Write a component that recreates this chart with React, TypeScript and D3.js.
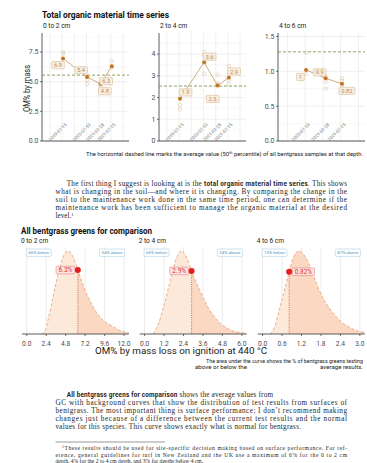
import React from 'react';
import * as d3 from 'd3';

// ---- time series data (top chart) ----
const depths = ['0 to 2 cm', '2 to 4 cm', '4 to 6 cm'];
const sampleDates = [
  ['2019-07-15', '2020-07-10', '2021-01-28', '2021-07-15'],
  ['2019-07-15', '2020-07-10', '2021-01-28', '2021-07-15'],
  ['2020-07-10', '2021-01-28', '2021-07-15'],
];
const meanValues = [
  [6.95, 5.4, 4.8, 6.3],
  [1.95, 3.62, 2.55, 2.92],
  [1.02, 0.9, 0.82],
];
const meanLabels = [
  ['6.9', '5.4', '4.8', '6.3'],
  ['1.9', '3.6', '2.5', '2.9'],
  ['1', '0.9', '0.82'],
];
const sampleValues = [
  [[7.5, 7.35], [5.15, 4.8], [4.9, 4.65], [6.75, 6.2]],
  [[1.66, 1.46], [4.1, 3.95, 3.1], [3.05, 2.65, 2.6, 1.85], [3.45, 2.8, 2.6]],
  [[1.27, 0.96], [0.93, 0.85, 0.75], [0.9, 0.86, 0.8]],
];
const medianValues = [5.55, 2.53, 1.28];
const yTicks = [[0, 2.5, 5, 7.5], [0, 1, 2, 3, 4], [0, 0.5, 1, 1.5]];
const yMax = [9.1, 4.97, 1.55];
const timeDomains = [
  ['2018-09-03', '2022-03-30'],
  ['2018-09-03', '2022-03-30'],
  ['2019-09-25', '2022-03-09'],
];
const gridDates = ['2019-01-01', '2019-07-01', '2020-01-01', '2020-07-01', '2021-01-01', '2021-07-01', '2022-01-01'];

// ---- distribution data (bottom chart) ----
const distMax = [12, 6, 3];
const distTicks = [
  [0, 2.4, 4.8, 7.2, 9.6, 12],
  [0, 1.2, 2.4, 3.6, 4.8, 6],
  [0, 0.6, 1.2, 1.8, 2.4, 3],
];
const currentValues = [6.3, 2.9, 0.82];
const currentLabels = ['6.3%', '2.9%', '0.82%'];
const belowLabels = ['66% below', '66% below', '13% below'];
const aboveLabels = ['34% above', '34% above', '87% above'];
const densityX = [
  [1.8, 2.2, 2.7, 3.25, 3.7, 4.1, 4.7, 5.1, 5.7, 6.3, 6.8, 7.35, 7.9, 8.4, 9.4, 10.6, 11.8, 12.6],
  [0.55, 0.85, 1.18, 1.6, 2.0, 2.25, 2.62, 2.9, 3.44, 3.95, 4.56, 5.28, 6.0, 6.3],
  [0.25, 0.4, 0.54, 0.7, 0.82, 0.96, 1.11, 1.32, 1.58, 1.84, 2.1, 2.42, 2.73, 2.99, 3.15],
];
const densityY = [
  [0, 0.03, 0.2, 0.45, 0.65, 0.81, 0.97, 1.0, 0.93, 0.77, 0.63, 0.49, 0.38, 0.29, 0.17, 0.09, 0.03, 0.015],
  [0, 0.12, 0.33, 0.65, 0.93, 1.0, 0.91, 0.76, 0.51, 0.31, 0.15, 0.05, 0.015, 0.008],
  [0, 0.12, 0.33, 0.56, 0.75, 0.93, 1.0, 0.93, 0.69, 0.45, 0.29, 0.15, 0.07, 0.03, 0.02],
];

// layout
const TOP = { lefts: [42, 159, 278], width: 87, top: 33, bottom: 141 };
const BOT = { lefts: [21.9, 139.7, 257.7], width: 107, top: 247, bottom: 334, peak: 251 };
// label nudges for the mean labels (px from point)
const labelNudge = [
  [[-5, 6.7], [-6, -6.6], [4.3, 7.2], [-5.6, 15]],
  [[5.6, -6.2], [5.5, -5.7], [-5, 13.3], [5.3, -6]],
  [[-5.7, 7], [-6, -6], [5, 7]],
];
const dotLabelSide = [-1, -1, 1];

const SANS = 'Roboto, "Noto Sans", sans-serif';
const SERIF = '"Liberation Serif", "DejaVu Serif", serif';

const ctx = typeof document !== 'undefined' ? document.createElement('canvas').getContext('2d') : null;
function textWidth(s: string, size: number, weight = 'normal') {
  if (!ctx) return s.length * size * 0.5;
  ctx.font = `${weight} ${size}px Roboto`;
  return ctx.measureText(s).width;
}

function TimePanel({ i }: { i: number }) {
  const L = TOP.lefts[i];
  const R = L + TOP.width;
  const x = d3.scaleTime().domain(timeDomains[i].map(s => new Date(s))).range([L, R]);
  const y = d3.scaleLinear().domain([0, yMax[i]]).range([TOP.bottom, TOP.top]);
  const dates = sampleDates[i].map(s => new Date(s));
  const pts: [number, number][] = dates.map((d, k) => [x(d), y(meanValues[i][k])]);
  const step = yTicks[i][1] - yTicks[i][0];
  const minors = d3.range(step / 2, yMax[i], step);
  const vgrid = gridDates.map(s => new Date(s)).filter(d => x(d) > L && x(d) < R);

  return (
    <g>
      {minors.map(t => (
        <line key={'m' + t} x1={L} x2={R} y1={y(t)} y2={y(t)} stroke="#f1f1f1" strokeWidth={0.5} />
      ))}
      {vgrid.map(d => (
        <line key={+d} x1={x(d)} x2={x(d)} y1={TOP.top} y2={TOP.bottom} stroke="#e6e6e6" strokeWidth={0.6} />
      ))}
      {yTicks[i].map(t => (
        <g key={t}>
          <line x1={L} x2={R} y1={y(t)} y2={y(t)} stroke="#e4e4e4" strokeWidth={0.6} />
          <line x1={L - 2} x2={L} y1={y(t)} y2={y(t)} stroke="#333" strokeWidth={0.7} />
          <text x={L - 3.5} y={y(t) + 2.4} fontSize={7} textAnchor="end" fill="#4d4d4d">
            {i === 1 ? d3.format('d')(t) : d3.format('.1f')(t)}
          </text>
        </g>
      ))}
      <line x1={L} x2={L} y1={TOP.top} y2={TOP.bottom} stroke="#333" strokeWidth={0.8} />
      <line x1={L} x2={R} y1={TOP.bottom} y2={TOP.bottom} stroke="#333" strokeWidth={0.8} />
      <line x1={L} x2={R} y1={y(medianValues[i])} y2={y(medianValues[i])} stroke="#6f8f3a" strokeWidth={0.8} strokeDasharray="3,2" />
      {dates.map((d, k) => (
        <text key={k} transform={`translate(${x(d) + 4},${125}) rotate(-45)`} fontSize={4.6} textAnchor="end" fill="#777">
          {sampleDates[i][k]}
        </text>
      ))}
      <path d={d3.line()(pts) || ''} fill="none" stroke="#c9a46e" strokeWidth={0.9} />
      {sampleValues[i].map((vals, k) =>
        vals.map((v, j) => (
          <circle key={k + '-' + j} cx={x(dates[k])} cy={y(v)} r={1.7} fill="none" stroke="#dcc4a6" strokeWidth={0.6} />
        ))
      )}
      {pts.map((p, k) => (
        <circle key={k} cx={p[0]} cy={p[1]} r={2} fill="#c8741e" />
      ))}
      {pts.map((p, k) => {
        const lbl = meanLabels[i][k];
        const w = textWidth(lbl, 5.8) + 4.6;
        const cx = p[0] + labelNudge[i][k][0];
        const cy = p[1] + labelNudge[i][k][1];
        return (
          <g key={'l' + k}>
            <rect x={cx - w / 2} y={cy - 3.6} width={w} height={7.2} rx={1} fill="#f8efe3" stroke="#d8b88e" strokeWidth={0.6} />
            <text x={cx} y={cy + 2} fontSize={5.8} textAnchor="middle" fill="#b88a52">{lbl}</text>
          </g>
        );
      })}
      <text x={L + 1} y={28} fontSize={6.6} fill="#222">{depths[i]}</text>
    </g>
  );
}

function DistPanel({ i }: { i: number }) {
  const L = BOT.lefts[i];
  const W = BOT.width;
  const pad = (W / 1.1) * 0.05;
  const x = d3.scaleLinear().domain([0, distMax[i]]).range([L + pad, L + W - pad]);
  const y = d3.scaleLinear().domain([0, 1]).range([BOT.bottom, BOT.peak]);
  const pts: [number, number][] = densityX[i].map((v, k) => [v, densityY[i][k]]);
  const area = d3.area<[number, number]>().x(d => x(d[0])).y0(BOT.bottom).y1(d => y(d[1])).curve(d3.curveMonotoneX);
  const line = d3.line<[number, number]>().x(d => x(d[0])).y(d => y(d[1])).curve(d3.curveMonotoneX);
  const dens = d3.scaleLinear().domain(densityX[i]).range(densityY[i]);
  const cx = x(currentValues[i]);
  const cy = y(dens(currentValues[i]));
  const lw = textWidth(currentLabels[i], 6.5) + 5;
  const side = dotLabelSide[i];
  const lx = side < 0 ? cx - 3 - lw : cx + 3;
  const bw = textWidth(belowLabels[i], 4.4) + 4;
  const aw = textWidth(aboveLabels[i], 4.4) + 4;
  const x0 = x(0);
  const x1 = x(distMax[i]);

  return (
    <g>
      <defs>
        <clipPath id={`lo${i}`}><rect x={L} y={BOT.top} width={cx - L} height={BOT.bottom - BOT.top} /></clipPath>
        <clipPath id={`hi${i}`}><rect x={cx} y={BOT.top} width={L + W - cx} height={BOT.bottom - BOT.top} /></clipPath>
        <clipPath id={`pn${i}`}><rect x={L} y={BOT.top - 2} width={W} height={BOT.bottom - BOT.top + 2} /></clipPath>
      </defs>
      {distTicks[i].map(t => (
        <line key={t} x1={x(t)} x2={x(t)} y1={BOT.top} y2={BOT.bottom} stroke="#e2e2e2" strokeWidth={0.7} />
      ))}
      <g clipPath={`url(#pn${i})`}>
        <path d={area(pts) || ''} fill="#fde9da" clipPath={`url(#lo${i})`} />
        <path d={area(pts) || ''} fill="#fad8c2" clipPath={`url(#hi${i})`} />
        <path d={line(pts) || ''} fill="none" stroke="#eba47e" strokeWidth={0.9} strokeDasharray="3,2" />
      </g>
      <line x1={cx} x2={cx} y1={cy} y2={BOT.bottom} stroke="#d9544f" strokeWidth={0.9} strokeDasharray="1,1.2" />
      <line x1={L} x2={L + W} y1={BOT.bottom} y2={BOT.bottom} stroke="#333" strokeWidth={0.8} />
      {distTicks[i].map(t => (
        <g key={'t' + t}>
          <line x1={x(t)} x2={x(t)} y1={BOT.bottom} y2={BOT.bottom + 2} stroke="#333" strokeWidth={0.7} />
          <text x={x(t)} y={345.5} fontSize={6.7} textAnchor="middle" fill="#4d4d4d">{d3.format('.1f')(t)}</text>
        </g>
      ))}
      <rect x={x0 - 0.5} y={249} width={bw} height={7.4} rx={1} fill="#fff" stroke="#a9cfe4" strokeWidth={0.6} />
      <text x={x0 - 0.5 + bw / 2} y={254.3} fontSize={4.4} textAnchor="middle" fill="#4f97c0">{belowLabels[i]}</text>
      <rect x={x1 + 0.5 - aw} y={249} width={aw} height={7.4} rx={1} fill="#fff" stroke="#a9cfe4" strokeWidth={0.6} />
      <text x={x1 + 0.5 - aw / 2} y={254.3} fontSize={4.4} textAnchor="middle" fill="#4f97c0">{aboveLabels[i]}</text>
      <rect x={lx} y={cy - 3.8} width={lw} height={7.6} rx={1} fill="#fde6e6" stroke="#e58080" strokeWidth={0.6} />
      <text x={lx + lw / 2} y={cy + 2.3} fontSize={6.5} textAnchor="middle" fill="#d83030">{currentLabels[i]}</text>
      <circle cx={cx} cy={cy} r={3} fill="#e81b1e" />
      <text x={L - 1} y={242.5} fontSize={6.6} fill="#222">{depths[i]}</text>
    </g>
  );
}

function Line({ x, y, x2, size = 7.2, justify = true, children }: any) {
  return (
    <text x={x} y={y} fontFamily={SERIF} fontSize={size} fill="#1e1e1e"
      textLength={justify ? x2 - x : undefined} lengthAdjust="spacing">
      {children}
    </text>
  );
}

export default function App() {
  const PL = 55.5;
  const PR = 347;
  const PI = 66.7;
  return (
    <svg width={367} height={463} fontFamily={SANS}
      style={{ position: 'absolute', left: 0, top: 0, background: '#fff' }}>
      <rect width={367} height={463} fill="#fff" />
      <text x={42} y={18} fontSize={9.2} fontWeight="bold" fill="#111" textLength={127} lengthAdjust="spacingAndGlyphs">
        Total organic material time series
      </text>
      <text transform="translate(29.5,88.5) rotate(-90)" fontSize={8.6} textAnchor="middle" fill="#222" textLength={47} lengthAdjust="spacingAndGlyphs">
        OM% by mass
      </text>
      {[0, 1, 2].map(i => <TimePanel key={i} i={i} />)}
      <text x={86} y={155.5} fontSize={5.5} fill="#222" textLength={277} lengthAdjust="spacingAndGlyphs">
        The horizontal dashed line marks the average value (50<tspan fontSize={3.6} dy={-1.8}>th</tspan><tspan dy={1.8}> percentile) of all bentgrass samples at that depth.</tspan>
      </text>

      <Line x={PI} y={186} x2={PR}>
        {'The first thing I suggest is looking at is the '}
        <tspan fontFamily={SANS} fontWeight="bold" fontSize={6.4}>total organic material time series</tspan>
        {'. This shows'}
      </Line>
      <Line x={PL} y={194} x2={PR}>what is changing in the soil—and where it is changing. By comparing the change in the</Line>
      <Line x={PL} y={202} x2={PR}>soil to the maintenance work done in the same time period, one can determine if the</Line>
      <Line x={PL} y={210} x2={PR}>maintenance work has been sufficient to manage the organic material at the desired</Line>
      <Line x={PL} y={218} justify={false}>level.<tspan fontSize={4.5} dy={-2.5}>1</tspan></Line>

      <text x={21} y={233.5} fontSize={9.2} fontWeight="bold" fill="#111" textLength={131} lengthAdjust="spacingAndGlyphs">
        All bentgrass greens for comparison
      </text>
      {[0, 1, 2].map(i => <DistPanel key={i} i={i} />)}
      <text x={181} y={354} fontSize={9} textAnchor="middle" fill="#222" textLength={172} lengthAdjust="spacingAndGlyphs">
        OM% by mass loss on ignition at 440 °C
      </text>
      <text x={363} y={362.5} fontSize={5.5} textAnchor="end" fill="#222" textLength={157} lengthAdjust="spacingAndGlyphs">
        The area under the curve shows the % of bentgrass greens testing
      </text>
      <text x={195} y={368.8} fontSize={5.5} fill="#222" textLength={52} lengthAdjust="spacingAndGlyphs">above or below the</text>
      <text x={363} y={368.8} fontSize={5.5} textAnchor="end" fill="#222" textLength={43} lengthAdjust="spacingAndGlyphs">average results.</text>

      <Line x={PI} y={397} x2={273}>
        <tspan fontFamily={SANS} fontWeight="bold" fontSize={6.4}>All bentgrass greens for comparison</tspan>
        {' shows the average values from'}
      </Line>
      <Line x={PL} y={405} x2={PR}>GC with background curves that show the distribution of test results from surfaces of</Line>
      <Line x={PL} y={413} x2={PR}>bentgrass. The most important thing is surface performance; I don’t recommend making</Line>
      <Line x={PL} y={421} x2={PR}>changes just because of a difference between the current test results and the normal</Line>
      <Line x={PL} y={429} x2={301}>values for this species. This curve shows exactly what is normal for bentgrass.</Line>

      <line x1={PL} x2={165} y1={442} y2={442} stroke="#333" strokeWidth={0.5} />
      <Line x={62} y={450} x2={PR} size={5.6}>
        <tspan fontSize={3.8} dy={-1.8}>1</tspan><tspan dy={1.8}>These results should be used for site-specific decision making based on surface performance. For ref-</tspan>
      </Line>
      <Line x={PL} y={456.6} x2={PR} size={5.6}>erence, general guidelines for turf in New Zealand and the UK use a maximum of 6% for the 0 to 2 cm</Line>
      <Line x={PL} y={463} size={5.6} justify={false}>depth, 4% for the 2 to 4 cm depth, and 3% for depths below 4 cm.</Line>
    </svg>
  );
}
